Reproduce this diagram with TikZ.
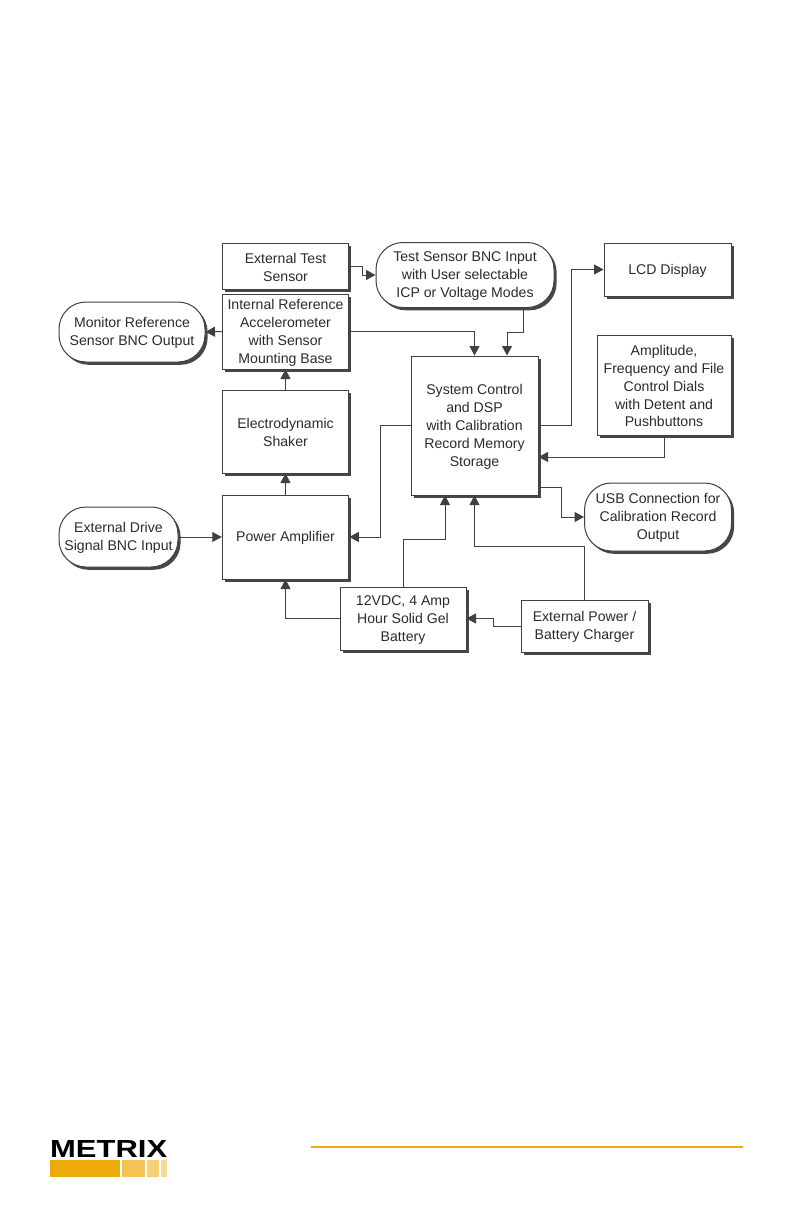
\documentclass[tikz,border=0pt]{standalone}
\usepackage{fontspec}
\usepackage{graphicx}
\setmainfont{Liberation Sans}
\usetikzlibrary{arrows.meta,shadows}
\definecolor{gold}{HTML}{EEA90A}
\definecolor{goldb}{HTML}{F3C455}
\definecolor{goldc}{HTML}{F5CF78}
\definecolor{goldd}{HTML}{F7DA96}
\definecolor{ink}{HTML}{2A2A32}
\definecolor{edge}{HTML}{404040}
\tikzset{
  base/.style={draw=edge,line width=1pt,fill=white,inner sep=0pt,align=center,text=ink,
    font=\fontsize{14.1}{17.9}\selectfont,
    drop shadow={shadow xshift=2.6pt,shadow yshift=-2.8pt,fill=black!72,opacity=1}},
  nl/.style={text height={12.4pt+(#1-1)*17.9pt}},
  blockbox/.style={base,rectangle},
  termbox/.style={base,rectangle,rounded corners=27pt},
  link/.style={draw=edge,line width=1pt,-{Triangle[length=9.5pt,width=10pt]}},
  barpart/.style={inner sep=0pt,minimum height=17pt,anchor=north west},
  sz/.style 2 args={minimum width=#1pt,minimum height=#2pt}
}
\begin{document}
\begin{tikzpicture}[x=1pt,y=-1pt]
\useasboundingbox (0,0) rectangle (793,1225);
\fill[white] (0,0) rectangle (793,1225);
% blocks
\node[blockbox,nl=2,sz={126.5}{46}] (ext) at (285.5,266) {External Test\\Sensor};
\node[blockbox,nl=4,sz={126.5}{75}] (int) at (285.5,331.5) {Internal Reference\\Accelerometer\\with Sensor\\Mounting Base};
\node[blockbox,nl=2,sz={126.5}{83}] (shk) at (285.5,431.5) {Electrodynamic\\Shaker};
\node[blockbox,nl=1,sz={126.5}{84}] (pwr) at (285.5,537) {Power Amplifier};
\node[blockbox,nl=3,sz={126}{63}] (bat) at (403,618.5) {12VDC, 4 Amp\\Hour Solid Gel\\Battery};
\node[blockbox,nl=2,sz={127}{52}] (chg) at (584.5,626) {External Power /\\Battery Charger};
\node[blockbox,nl=5,sz={127}{139}] (sys) at (474.5,425.5) {System Control\\and DSP\\with Calibration\\Record Memory\\Storage};
\node[blockbox,nl=1,sz={127}{53}] (lcd) at (667.5,269.5) {LCD Display};
\node[blockbox,nl=5,sz={134}{100}] (amp) at (664,385) {Amplitude,\\Frequency and File\\Control Dials\\with Detent and\\Pushbuttons};
% terminators
\node[termbox,nl=3,sz={178}{65}] (tst) at (465,275) {Test Sensor BNC Input\\with User selectable\\ICP or Voltage Modes};
\node[termbox,nl=2,sz={146}{60}] (mon) at (132,332) {Monitor Reference\\Sensor BNC Output};
\node[termbox,nl=2,sz={119}{60}] (drv) at (118.5,537) {External Drive\\Signal BNC Input};
\node[termbox,nl=3,sz={147}{68}] (usb) at (658,517) {USB Connection for\\Calibration Record\\Output};
% connectors
\draw[link] (ext.east) -- ++(13,0) |- (tst.west);
\draw[link] (int.west) -- (mon.east);
\draw[link] (int.east) -| (sys.north);
\draw[link] ([xshift=58pt]tst.south) |- ++(-16,24) -- ([xshift=32.5pt]sys.north);
\draw[link] (shk.north) -- (int.south);
\draw[link] (pwr.north) -- (shk.south);
\draw[link] (sys.west) -- ++(-30,0) |- (pwr.east);
\draw[link] (drv.east) -- (pwr.west);
\draw[link] (bat.west) -| (pwr.south);
\draw[link] (bat.north) |- ++(42,-47) -- ([xshift=-29.5pt]sys.south);
\draw[link] (chg.north) |- ++(-110,-53) -- (sys.south);
\draw[link] (chg.west) -- ++(-27,0) |- (bat.east);
\draw[link] (sys.east) -- ++(33,0) |- (lcd.west);
\draw[link] (amp.south) |- ([yshift=-31.5pt]sys.east);
\draw[link] ([yshift=-61.5pt]sys.east) -- ++(23,0) |- (usb.west);
% footer
\coordinate (ruleL) at (311,1147);
\coordinate (ruleR) at (743,1147);
\draw[gold,line width=1.4pt] (ruleL) -- (ruleR);
\node[inner sep=0pt,anchor=north west] (logo) at (50,1140)
  {\resizebox{117pt}{17pt}{\fontsize{20}{20}\selectfont\bfseries METRIX}};
\node[barpart,fill=gold,minimum width=70pt] (b1) at (50,1160) {};
\node[barpart,fill=goldb,minimum width=23pt] (b2) at (122,1160) {};
\node[barpart,fill=goldc,minimum width=12pt] (b3) at (147,1160) {};
\node[barpart,fill=goldd,minimum width=6pt] (b4) at (161,1160) {};
\end{tikzpicture}
\end{document}
